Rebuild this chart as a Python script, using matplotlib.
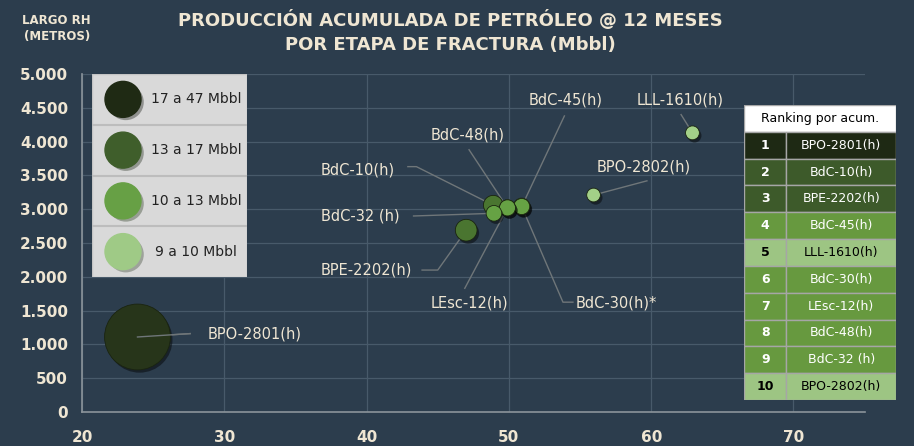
import matplotlib
matplotlib.use("Agg")
import matplotlib.pyplot as plt
import matplotlib.patheffects as pe
from matplotlib.patches import Rectangle
from matplotlib.ticker import FuncFormatter

# data
pozos = ['BPO-2801(h)', 'BdC-10(h)', 'BPE-2202(h)', 'BdC-45(h)', 'LLL-1610(h)',
         'BdC-30(h)', 'LEsc-12(h)', 'BdC-48(h)', 'BdC-32(h)', 'BPO-2802(h)']
etapas = [23.9, 48.9, 47.0, 50.9, 62.9, 50.9, 49.9, 49.9, 48.95, 55.95]
largo_rh = [1110, 3060, 2690, 3040, 4130, 3040, 3020, 3020, 2940, 3210]
acum_etapa = [47, 14.0, 15.5, 12.0, 9.9, 11.5, 11.5, 11.5, 11.2, 9.8]

rangos = ['17 a 47 Mbbl', '13 a 17 Mbbl', '10 a 13 Mbbl', '9 a 10 Mbbl']
limites = [17, 13, 10, 9]
ranking = ['BPO-2801(h)', 'BdC-10(h)', 'BPE-2202(h)', 'BdC-45(h)', 'LLL-1610(h)',
           'BdC-30(h)', 'LEsc-12(h)', 'BdC-48(h)', 'BdC-32 (h)', 'BPO-2802(h)']
ranking_grupo = [0, 1, 1, 2, 3, 2, 2, 2, 2, 3]

x_ticks = [20, 30, 40, 50, 60, 70]
y_ticks = [0, 500, 1000, 1500, 2000, 2500, 3000, 3500, 4000, 4500, 5000]

# styling
BG = '#2c3d4d'
CREAM = '#efe6d3'
bubble_cols = ['#27351a', '#4a7530', '#66a244', '#a3d088']
legend_cols = ['#1f2a14', '#3f5e2b', '#67a045', '#9fca86']
table_cols = ['#1e2914', '#3d5a2a', '#67993f', '#9dc583']

# label text positions (data coords) and leader elbow points
lab_pos = {
    'BPO-2801(h)': (28.8, 1150, 'left', [(27.6, 1160)]),
    'BdC-10(h)': (36.8, 3580, 'left', [(43.5, 3630), (42.9, 3630)]),
    'BPE-2202(h)': (36.8, 2100, 'left', [(45.0, 2100), (43.9, 2100)]),
    'BdC-32(h)': (36.8, 2900, 'left', [(43.3, 2900)]),
    'BdC-48(h)': (47.1, 4100, 'center', [(47.2, 3880)]),
    'BdC-45(h)': (54.0, 4620, 'center', [(53.9, 4380)]),
    'LLL-1610(h)': (62.0, 4620, 'center', [(62.1, 4400)]),
    'BPO-2802(h)': (59.5, 3620, 'center', [(59.7, 3420)]),
    'LEsc-12(h)': (47.2, 1610, 'center', [(46.9, 1830)]),
    'BdC-30(h)': (54.7, 1610, 'left', [(53.8, 1625), (54.5, 1625)]),
}
lab_text = {'BdC-32(h)': 'BdC-32 (h)', 'BdC-30(h)': 'BdC-30(h)*'}

plt.rcParams['font.family'] = ['DejaVu Sans']

fig = plt.figure(figsize=(9.14, 4.46), dpi=100, facecolor=BG)
ax = fig.add_axes([0.0897, 0.0762, 0.8563, 0.7578], facecolor=BG)


def grupo(v):
    for i, lim in enumerate(limites):
        if v >= lim:
            return i
    return len(limites) - 1


def size_pts(v):
    # bubble diameter proportional to value
    d = 2 * 0.70 * v * 72 / 100
    return d ** 2


order = sorted(range(len(pozos)), key=lambda i: -acum_etapa[i])
shadow = [pe.SimplePatchShadow(offset=(1.5, -2), shadow_rgbFace='black', alpha=0.45), pe.Normal()]

# leader lines and labels
for i in range(len(pozos)):
    name = pozos[i]
    tx, ty, ha, pts = lab_pos[name]
    xs = [etapas[i]] + [p[0] for p in pts]
    ys = [largo_rh[i]] + [p[1] for p in pts]
    ax.plot(xs, ys, color='#6f7679', lw=1.0, zorder=2)
    ax.text(tx, ty, lab_text.get(name, name), color=CREAM, fontsize=10.5,
            ha=ha, va='center', zorder=6)

for i in order:
    g = grupo(acum_etapa[i])
    ax.scatter(etapas[i], largo_rh[i], s=size_pts(acum_etapa[i]), color=bubble_cols[g],
               edgecolor='#1a2410', linewidth=0.6, zorder=4, path_effects=shadow)

# leader line over the big bubble
ax.plot([etapas[0], 27.6], [largo_rh[0], 1160], color='#6f7679', lw=1.0, zorder=5)

ax.set_xlim(20, 75)
ax.set_ylim(0, 5000)
ax.set_xticks(x_ticks)
ax.set_yticks(y_ticks)
ax.yaxis.set_major_formatter(FuncFormatter(lambda v, p: f'{int(v):,}'.replace(',', '.')))
ax.grid(True, color='#485a6a', lw=0.9)
ax.set_axisbelow(True)
for s in ['top', 'right']:
    ax.spines[s].set_visible(False)
for s in ['left', 'bottom']:
    ax.spines[s].set_color('#8b949b')
    ax.spines[s].set_linewidth(1.2)
ax.tick_params(length=0, colors=CREAM, labelsize=11, pad=10)
ax.tick_params(axis='x', pad=13)
for lbl in ax.get_xticklabels() + ax.get_yticklabels():
    lbl.set_fontweight('semibold')

fig.text(0.493, 0.955, 'PRODUCCIÓN ACUMULADA DE PETRÓLEO @ 12 MESES', color=CREAM,
         fontsize=13, fontweight='bold', ha='center', va='center')
fig.text(0.493, 0.898, 'POR ETAPA DE FRACTURA (Mbbl)', color=CREAM,
         fontsize=13, fontweight='bold', ha='center', va='center')
fig.text(0.062, 0.935, 'LARGO RH\n(METROS)', color=CREAM, fontsize=8.5,
         fontweight='bold', ha='center', va='center', linespacing=1.3)

# legend box
lg = fig.add_axes([92 / 914, 1 - 277 / 446, 155 / 914, 203 / 446])
lg.set_xlim(0, 1)
lg.set_ylim(0, 4)
lg.axis('off')
lg.add_patch(Rectangle((0, 0), 1, 4, facecolor='#d9d9d9', edgecolor='#c4c4c4', lw=1))
for k in range(len(rangos)):
    yc = 3.5 - k
    if k > 0:
        lg.plot([0, 1], [4 - k, 4 - k], color='#bdbdbd', lw=1.5)
    lg.scatter(0.2, yc, s=(36 * 0.72) ** 2, color=legend_cols[k],
               path_effects=[pe.SimplePatchShadow(offset=(2, -2), alpha=0.35), pe.Normal()])
    lg.text(0.67, yc, rangos[k], color='#222222', fontsize=10, ha='center', va='center')

# ranking table
tb = fig.add_axes([744 / 914, 1 - 400 / 446, 152 / 914, 295 / 446])
tb.set_xlim(0, 1)
tb.set_ylim(0, 11)
tb.axis('off')
tb.add_patch(Rectangle((0, 10), 1, 1, facecolor='white', edgecolor='#a6a6a6', lw=1))
tb.text(0.5, 10.5, 'Ranking por acum.', color='black', fontsize=9, ha='center', va='center')
for r in range(len(ranking)):
    y0 = 9 - r
    g = ranking_grupo[r]
    tc = 'black' if g == 3 else 'white'
    tb.add_patch(Rectangle((0, y0), 0.275, 1, facecolor=table_cols[g], edgecolor='#a6a6a6', lw=1))
    tb.add_patch(Rectangle((0.275, y0), 0.725, 1, facecolor=table_cols[g], edgecolor='#a6a6a6', lw=1))
    tb.text(0.14, y0 + 0.5, str(r + 1), color=tc, fontsize=9, fontweight='bold', ha='center', va='center')
    tb.text(0.64, y0 + 0.5, ranking[r], color=tc, fontsize=9, ha='center', va='center')

fig.savefig('out.png', dpi=100, facecolor=BG)
